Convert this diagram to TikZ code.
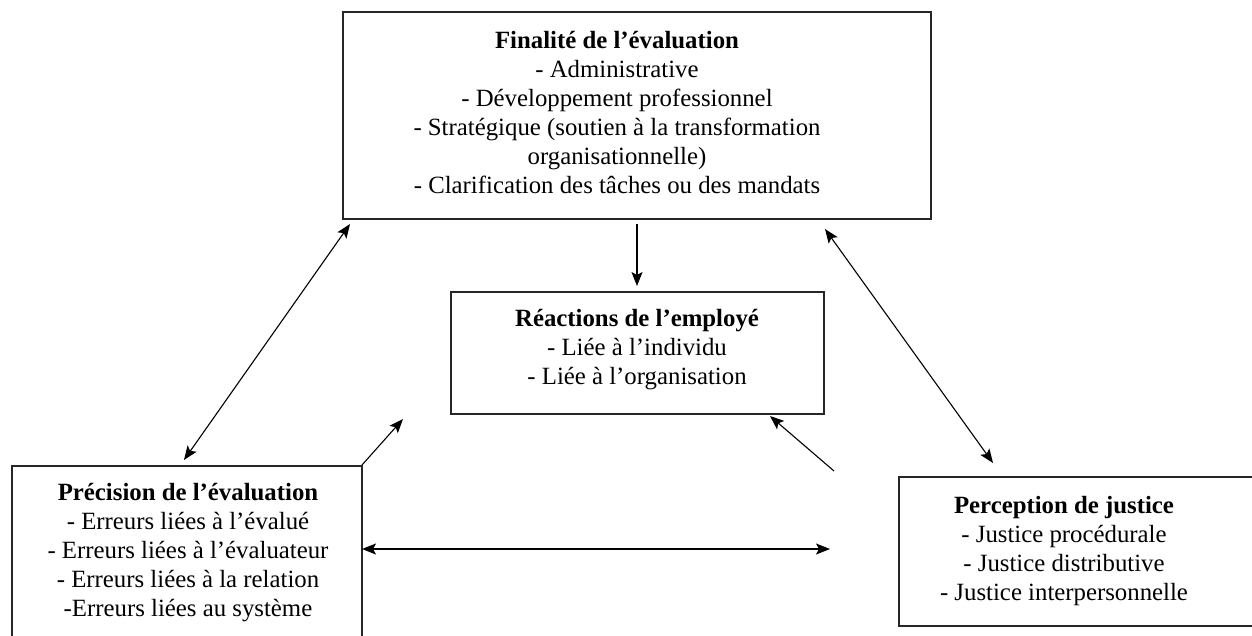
\documentclass[tikz,border=0pt]{standalone}
\usepackage{fontspec}
\setmainfont{Liberation Serif}
\usetikzlibrary{arrows.meta}
\begin{document}
\begin{tikzpicture}[x=1pt,y=-1pt,
  boxshape/.style={draw=black!85,line width=1.4pt},
  txt/.style={align=center,inner sep=0pt,font=\fontsize{24.8}{29}\selectfont},
  tip/.style={Stealth[length=14pt,width=11pt,inset=3pt]},
  conn/.style={line width=1.1pt,-{Stealth[length=14pt,width=11pt,inset=3pt]}},
  conn2/.style={line width=1.1pt,{Stealth[length=14pt,width=11pt,inset=3pt]}-{Stealth[length=14pt,width=11pt,inset=3pt]}}]
\useasboundingbox (0,0) rectangle (1252,635);
\begin{scope}
\clip (0,0) rectangle (1252,635);
% boxes
\draw[boxshape] (343,12) rectangle (931,219);
\draw[boxshape] (451,292) rectangle (824,414);
\draw[boxshape] (362,700) -- (362,466) -- (12,466) -- (12,700);
\draw[boxshape] (1300,477) -- (899,477) -- (899,626) -- (1300,626);
\end{scope}
% texts
\node[txt] (fin) at (617,113) {\textbf{Finalité de l’évaluation}\\- Administrative\\- Développement professionnel\\- Stratégique (soutien à la transformation\\organisationnelle)\\- Clarification des tâches ou des mandats};
\node[txt] (rea) at (637,350) {\textbf{Réactions de l’employé}\\- Liée à l’individu\\- Liée à l’organisation};
\node[txt] (pre) at (188,553) {\textbf{Précision de l’évaluation}\\- Erreurs liées à l’évalué\\- Erreurs liées à l’évaluateur\\- Erreurs liées à la relation\\-Erreurs liées au système};
\node[txt] (per) at (1064,551) {\textbf{Perception de justice}\\- Justice procédurale\\- Justice distributive\\- Justice interpersonnelle};
% connector end points
\coordinate (a1) at (637,224);
\coordinate (a2) at (637,286);
\coordinate (b1) at (350,224);
\coordinate (b2) at (184,460);
\coordinate (c1) at (362,465);
\coordinate (c2) at (403,419);
\coordinate (d1) at (362,549);
\coordinate (d2) at (830,549);
\coordinate (e1) at (834,471);
\coordinate (e2) at (770,416);
\coordinate (f1) at (825,229);
\coordinate (f2) at (993,463);
\draw[conn] (a1) -- (a2);
\draw[conn2] (b1) -- (b2);
\draw[conn] (c1) -- (c2);
\draw[conn2] (d1) -- (d2);
\draw[conn] (e1) -- (e2);
\draw[conn2] (f1) -- (f2);
\end{tikzpicture}
\end{document}
